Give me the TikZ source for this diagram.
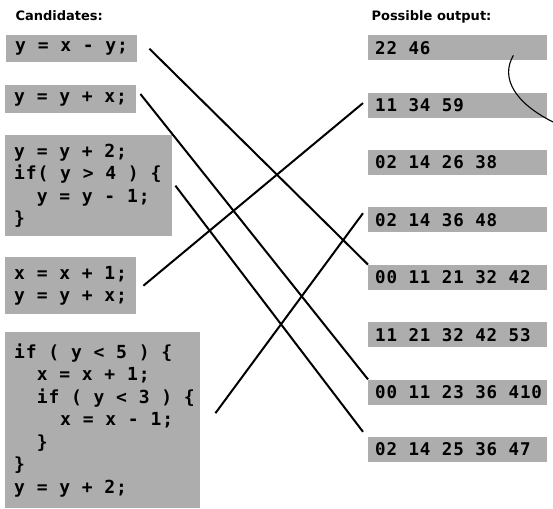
\documentclass[tikz,border=0pt]{standalone}
\usepackage{fontspec}
\setmainfont{DejaVu Sans}
\newfontfamily\codefont{DejaVu Sans Mono}[LetterSpace=5.0]
\newcommand{\pad}[1]{\phantom{#1}}
\newcommand{\wsp}{\hspace*{0.652em}}

\begin{document}
\begin{tikzpicture}[x=1pt, y=-1pt,
    boxfill/.style={fill=black!32, anchor=north west, inner ysep=0pt},
    codebox/.style={boxfill, inner xsep=9pt, align=left,
      font=\codefont\bfseries\fontsize{18}{22.5}\selectfont},
    outbox/.style={boxfill, inner xsep=7pt, minimum width=179pt, minimum height=25pt,
      text width=165pt, align=left, font=\codefont\bfseries\fontsize{17.5}{22}\selectfont},
    head/.style={anchor=base west, font=\bfseries\fontsize{13}{15}\selectfont},
    link/.style={line width=2pt},
    hook/.style={line width=1.1pt}]
  \useasboundingbox (0,0) rectangle (553,508);
  % headings
  \node[head] (candlbl) at (12,21) {Candidates:};
  \node[head] (outlbl) at (368,21) {Possible output:};
  % candidate code
  \node[codebox, text width=113pt, minimum height=27pt] (c1) at (6,35)
    {y\wsp=\wsp x\wsp-\wsp y;};
  \node[codebox, text width=113pt, minimum height=28pt] (c2) at (5,85)
    {y\wsp=\wsp y\wsp+\wsp x;};
  \node[codebox, text width=149pt, minimum height=101pt] (c3) at (5,135)
    {y\wsp=\wsp y\wsp+\wsp 2;\\
     if(\wsp y\wsp>\wsp 4\wsp)\wsp\{\\
     \pad{xx}y\wsp=\wsp y\wsp-\wsp 1;\\
     \}};
  \node[codebox, text width=113pt, minimum height=57pt] (c4) at (5,257)
    {x\wsp=\wsp x\wsp+\wsp 1;\\y\wsp=\wsp y\wsp+\wsp x;};
  \node[codebox, text width=177pt, minimum height=176pt] (c5) at (5,332)
    {if\wsp(\wsp y\wsp<\wsp 5\wsp)\wsp\{\\
     \pad{xx}x\wsp=\wsp x\wsp+\wsp 1;\\
     \pad{xx}if\wsp(\wsp y\wsp<\wsp 3\wsp)\wsp\{\\
     \pad{xxxx}x\wsp=\wsp x\wsp-\wsp 1;\\
     \pad{xx}\}\\
     \}\\
     y\wsp=\wsp y\wsp+\wsp 2;};
  % possible outputs
  \foreach \v [count=\i] in {22\wsp 46, 11\wsp 34\wsp 59, 02\wsp 14\wsp 26\wsp 38,
      02\wsp 14\wsp 36\wsp 48, 00\wsp 11\wsp 21\wsp 32\wsp 42,
      11\wsp 21\wsp 32\wsp 42\wsp 53, 00\wsp 11\wsp 23\wsp 36\wsp 410,
      02\wsp 14\wsp 25\wsp 36\wsp 47}
    \node[outbox] (o\i) at (368,{35+(\i-1)*57.4}) {\v};
  % matching lines
  \draw[link] ([xshift=12pt]c1.east) -- (o5.north west);
  \draw[link] ([shift={(4,9)}]c2.north east) -- (o7.north west);
  \draw[link] ([xshift=3pt]c3.east) -- ([shift={(-5,-5)}]o8.north west);
  \draw[link] ([xshift=7pt]c4.east) -- ([shift={(-5,-2)}]o2.west);
  \draw[link] ([shift={(15,-7)}]c5.east) -- ([shift={(-5,6)}]o4.north west);
  \coordinate (hookend) at (553,122);
  \draw[hook] ([shift={(-34,-5)}]o1.south east) .. controls (500,78) and (515,103) .. (hookend);
\end{tikzpicture}
\end{document}
